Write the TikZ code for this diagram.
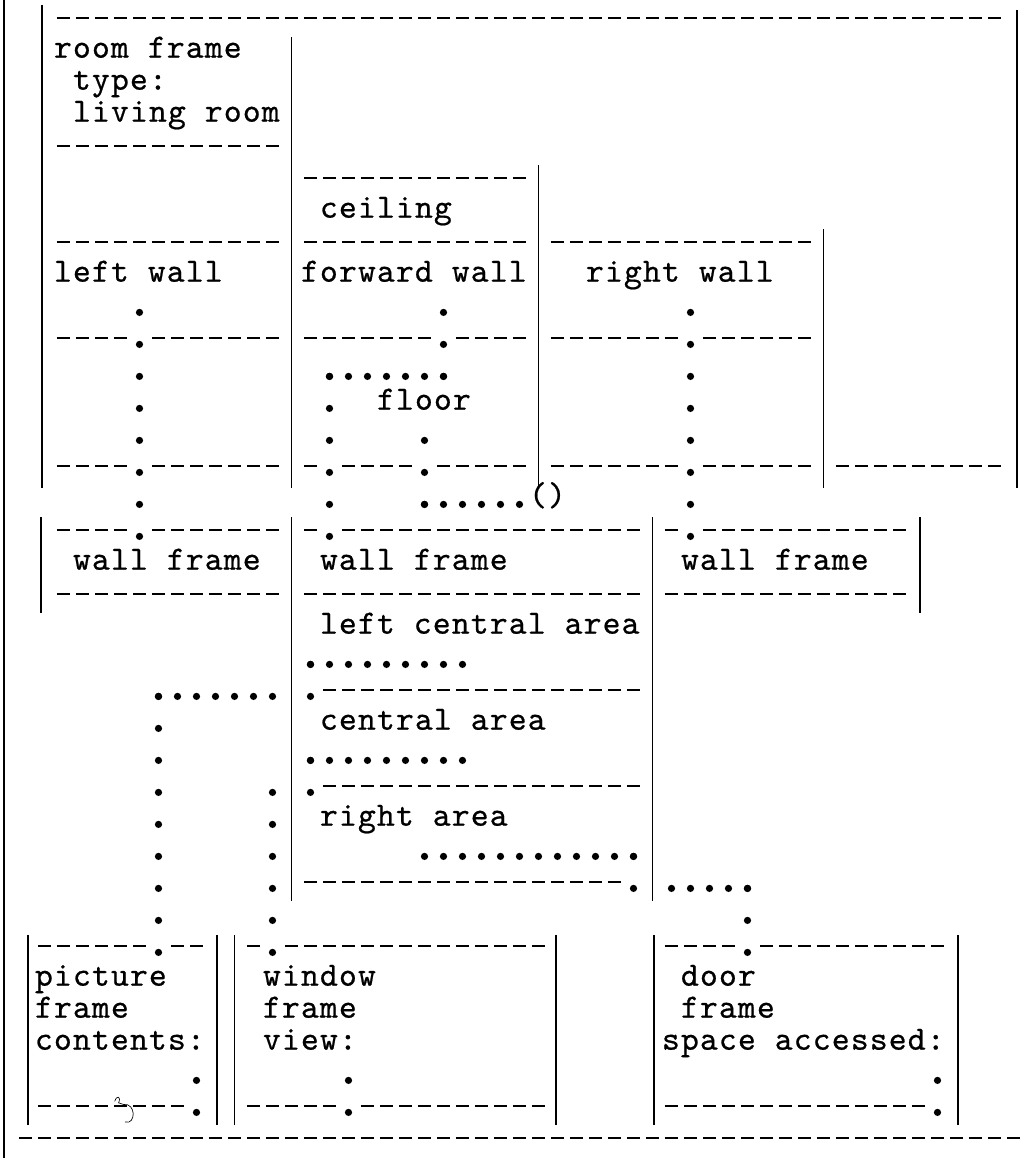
\documentclass[tikz,border=0pt]{standalone}
\usepackage{fontspec}
\newfontfamily\tw[FakeBold=0.6,LetterSpace=3.38]{lmmono10-regular.otf}
\tikzset{
  vbarline/.style={line width=1.4pt},
  dashrow/.style={line width=1.5pt, dash pattern=on 9.975pt off 4.275pt},
  tdot/.style={fill=black},
  lbl/.style={font={\tw\fontsize{25.5pt}{24pt}\selectfont}, anchor=base west, inner sep=0pt, outer sep=0pt},
}
% typed dash run: cols #1..#2 on row #3
\newcommand\dsh[3]{\draw[dashrow] (#1+0.15,#3) -- (#2+0.85,#3);}
% drawn vertical rule at x=#1 from row #2 to row #3
\newcommand\vln[3]{\draw[vbarline] (#1,#2) -- (#1,#3);}
% dotted connector runs (named end points), typed periods at every cell
\newcommand\vrun[4]{\coordinate (#1-a) at (#2+0.5,#3+0.2); \coordinate (#1-b) at (#2+0.5,#4+0.2);
  \foreach \k in {#3,...,#4} {\fill[tdot] (#2+0.5,\k+0.2) circle (2.7pt);}}
\newcommand\hrun[4]{\coordinate (#1-a) at (#2+0.5,#4+0.2); \coordinate (#1-b) at (#3+0.5,#4+0.2);
  \foreach \k in {#2,...,#3} {\fill[tdot] (\k+0.5,#4+0.2) circle (2.7pt);}}
\newcommand\txt[4]{\node[lbl] (#1) at (#2,#3+0.24) {#4};}
\newcommand\tsp{\hspace*{14.25pt}}
\newcommand\tlines[1]{\begin{tabular}[t]{@{}l@{}}#1\end{tabular}}
\begin{document}
\begin{tikzpicture}[x=14.25pt,y=-24pt]
\fill[white] (-2.842,-0.5625) rectangle (51.684,35.625);
\useasboundingbox (-2.842,-0.5625) rectangle (51.684,35.625);
\begin{scope}
\clip (-2.842,-0.5625) rectangle (51.684,35.625);
% ---- drawn rules
\vln{-2.64}{-0.6}{35.7}
\vln{-0.65}{-0.4}{14.7}
\vln{12.5}{0.6}{14.7}
\vln{25.5}{4.6}{14.7}
\vln{40.5}{6.6}{14.7}
\vln{50.7}{-0.25}{14.7}
\vln{-0.7}{15.6}{18.6}
\vln{12.5}{15.6}{27.6}
\vln{31.5}{15.6}{27.6}
\vln{45.6}{15.6}{18.6}
\vln{-1.36}{28.65}{34.6}
\vln{8.58}{28.65}{34.6}
\vln{9.5}{28.65}{34.6}
\vln{26.4}{28.65}{34.6}
\vln{31.6}{28.65}{34.6}
\vln{47.6}{28.65}{34.6}
% ---- typed dashes
\dsh{0}{49}{0}
\dsh{0}{11}{4}
\dsh{13}{24}{5}
\dsh{0}{11}{7} \dsh{13}{24}{7} \dsh{26}{39}{7}
\dsh{0}{3}{10} \dsh{5}{11}{10} \dsh{13}{19}{10} \dsh{21}{24}{10} \dsh{26}{32}{10} \dsh{34}{39}{10}
\dsh{0}{3}{14} \dsh{5}{11}{14} \dsh{13}{13}{14} \dsh{15}{18}{14} \dsh{20}{24}{14} \dsh{26}{32}{14} \dsh{34}{39}{14} \dsh{41}{49}{14}
\dsh{0}{3}{16} \dsh{5}{11}{16} \dsh{13}{13}{16} \dsh{15}{30}{16} \dsh{32}{32}{16} \dsh{34}{44}{16}
\dsh{0}{11}{18} \dsh{13}{30}{18} \dsh{32}{44}{18}
\dsh{14}{30}{21}
\dsh{14}{30}{24}
\dsh{13}{29}{27}
\dsh{-1}{4}{29} \dsh{6}{7}{29} \dsh{10}{10}{29} \dsh{12}{25}{29} \dsh{32}{35}{29} \dsh{37}{46}{29}
\dsh{-1}{6}{34} \dsh{10}{14}{34} \dsh{16}{25}{34} \dsh{32}{45}{34}
\dsh{-2}{50}{35}
% ---- texts
\txt{rf}{0}{1}{\tlines{\smash{room frame}\\\tsp\smash{type:}\\\tsp\smash{living room}}}
\txt{ceil}{14}{6}{ceiling}
\txt{lw}{0}{8}{left wall}
\txt{fw}{13}{8}{forward wall}
\txt{rw}{28}{8}{right wall}
\txt{floor}{17}{12}{floor}
\txt{nil}{25}{15}{()}
\txt{wf1}{1}{17}{wall frame}
\txt{wf2}{14}{17}{wall frame}
\txt{wf3}{33}{17}{wall frame}
\txt{lca}{14}{19}{left central area}
\txt{ca}{14}{22}{central area}
\txt{ra}{14}{25}{right area}
\txt{pf}{-1}{30}{\tlines{\smash{picture}\\\smash{frame}\\\smash{contents:}}}
\txt{wn}{11}{30}{\tlines{\smash{window}\\\smash{frame}\\\smash{view:}}}
\txt{df}{32}{30}{\tlines{\tsp\smash{door}\\\tsp\smash{frame}\\\smash{space accessed:}}}
% ---- dotted connectors
\vrun{c1}{4}{9}{16}
\vrun{c2a}{20}{9}{11}
\hrun{c2b}{14}{20}{11}
\vrun{c2c}{14}{11}{16}
\vrun{fl1}{19}{13}{15}
\hrun{fl2}{19}{24}{15}
\vrun{c3}{33}{9}{16}
\hrun{c4a}{13}{21}{20}
\vrun{c4b}{13}{20}{21}
\hrun{c4c}{5}{11}{21}
\vrun{c4d}{5}{21}{29}
\hrun{c5a}{13}{21}{23}
\vrun{c5b}{13}{23}{24}
\vrun{c5c}{11}{24}{29}
\hrun{c6a}{19}{30}{26}
\vrun{c6b}{30}{26}{27}
\hrun{c6c}{32}{36}{27}
\vrun{c6d}{36}{27}{29}
\vrun{s1}{7}{33}{34}
\vrun{s2}{15}{33}{34}
\vrun{s3}{46}{33}{34}
% ---- handwritten squiggle
\draw[line width=0.5pt, line cap=round] (3.2,33.85) .. controls (3.3,33.65) and (3.55,33.7) .. (3.4,33.9) -- (3.65,33.95) .. controls (4.35,33.9) and (4.3,34.6) .. (3.75,34.5);
\end{scope}
\end{tikzpicture}
\end{document}
